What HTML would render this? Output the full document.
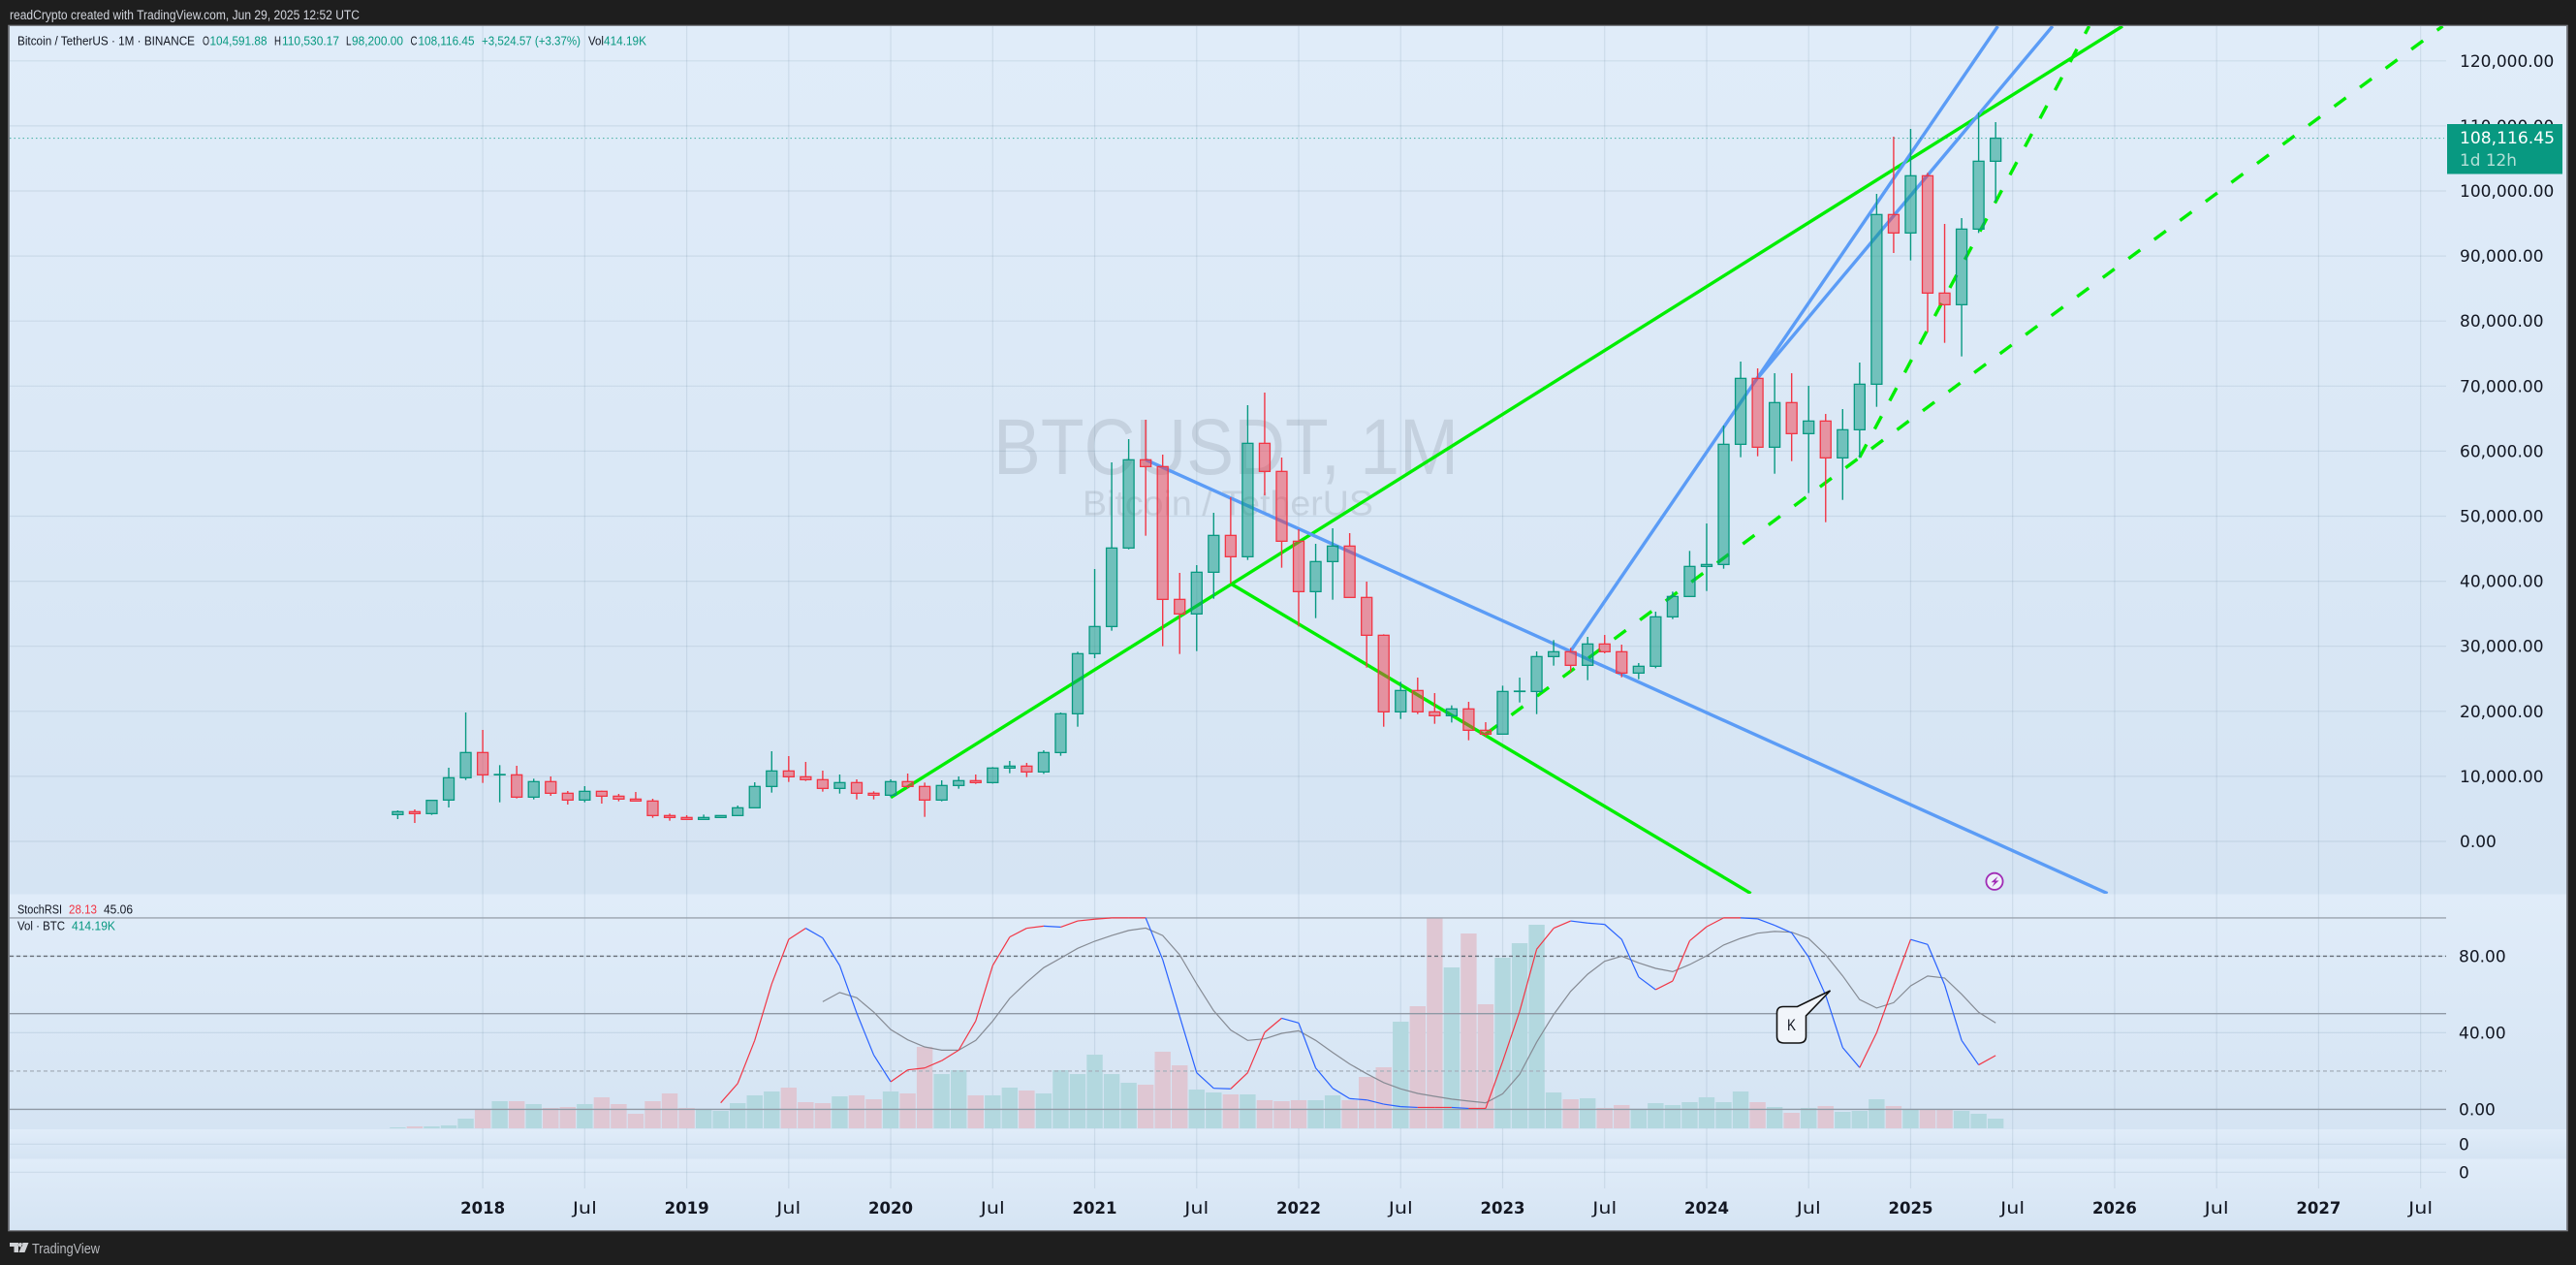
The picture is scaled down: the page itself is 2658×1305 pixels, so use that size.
<!DOCTYPE html>
<html lang="en"><head><meta charset="utf-8"><title>BTCUSDT 1M chart</title>
<style>
html,body{margin:0;padding:0;background:#1e1e1e;width:2658px;height:1305px;overflow:hidden}
svg{display:block}
text{font-family:"DejaVu Sans","Liberation Sans",sans-serif}
.ls{font-family:"Liberation Sans","DejaVu Sans",sans-serif}
</style></head>
<body>
<svg id="chart" xmlns="http://www.w3.org/2000/svg" width="2658" height="1305" viewBox="0 0 2658 1305">
<defs>
<linearGradient id="paneGrad" x1="0" y1="0" x2="0" y2="1"><stop offset="0" stop-color="#e0ecf9"/><stop offset="1" stop-color="#d5e4f3"/></linearGradient>
<clipPath id="mainClip"><rect x="10" y="27" width="2514" height="895"/></clipPath>
</defs>
<rect x="9" y="26.5" width="2640" height="1243" fill="#7b7e84" stroke="#7b7e84" stroke-width="1.6"/>
<rect x="10" y="27" width="2638" height="895.5" fill="url(#paneGrad)"/>
<rect x="10" y="922.5" width="2638" height="242.5" fill="url(#paneGrad)"/>
<rect x="10" y="1165" width="2638" height="30.5" fill="url(#paneGrad)"/>
<rect x="10" y="1195.5" width="2638" height="73.5" fill="url(#paneGrad)"/>
<g id="grid"></g>
<text class="ls" x="1025" y="489" font-size="82" textLength="480" lengthAdjust="spacingAndGlyphs" fill="#2a2e39" fill-opacity="0.12">BTCUSDT, 1M</text>
<text class="ls" x="1117" y="531.5" font-size="36" textLength="300" lengthAdjust="spacingAndGlyphs" fill="#2a2e39" fill-opacity="0.12">Bitcoin / TetherUS</text>
<g id="trendlines" clip-path="url(#mainClip)"></g>
<g id="candles"></g>
<line id="priceLine" x1="10" x2="2522" stroke="#089981" stroke-opacity="0.65" stroke-width="1.2" stroke-dasharray="1.5 3"/>
<g id="priceAxis"></g>
<g>
<rect x="2525" y="128" width="119" height="51.5" fill="#089981"/>
<text x="2538" y="148" font-size="17" textLength="98" lengthAdjust="spacingAndGlyphs" fill="#ffffff">108,116.45</text>
<text x="2538" y="171" font-size="17" textLength="59" lengthAdjust="spacingAndGlyphs" fill="#b5e0d8">1d 12h</text>
</g>
<g id="volume"></g>
<g id="bands"></g>
<g id="stoch"></g>
<g id="stochAxis"></g>
<g id="timeAxis"></g>
<g>
<path d="M1840 1038.5H1854.5L1888.5 1022L1863.5 1048V1069Q1863.5 1076 1856 1076H1841Q1833.5 1076 1833.5 1069V1045Q1833.5 1038.5 1840 1038.5Z" fill="#f1f5fa" stroke="#111111" stroke-width="1.6"/>
<text class="ls" x="1848.5" y="1063" font-size="17" text-anchor="middle" textLength="9" lengthAdjust="spacingAndGlyphs" fill="#131722">K</text>
</g>
<g>
<circle cx="2058" cy="909.3" r="8.6" fill="#eef1f9" stroke="#a02bb5" stroke-width="1.8"/>
<path d="M2061.5 904L2054.5 910.2H2058L2055.5 915L2062.5 908.5H2059Z" fill="#a02bb5"/>
</g>
<g class="ls" font-size="12.5">
<text class="ls" x="10" y="20" font-size="13.5" textLength="361" lengthAdjust="spacingAndGlyphs" fill="#d1d4dc">readCrypto created with TradingView.com, Jun 29, 2025 12:52 UTC</text>
<text class="ls" x="18" y="46.5" font-size="12.5" textLength="183" lengthAdjust="spacingAndGlyphs" fill="#131722">Bitcoin / TetherUS · 1M · BINANCE</text>
<text class="ls" x="209" y="46.5" font-size="12.5" textLength="7" lengthAdjust="spacingAndGlyphs" fill="#131722">O</text>
<text class="ls" x="216.5" y="46.5" font-size="12.5" textLength="59" lengthAdjust="spacingAndGlyphs" fill="#089981">104,591.88</text>
<text class="ls" x="283" y="46.5" font-size="12.5" textLength="7" lengthAdjust="spacingAndGlyphs" fill="#131722">H</text>
<text class="ls" x="291" y="46.5" font-size="12.5" textLength="59" lengthAdjust="spacingAndGlyphs" fill="#089981">110,530.17</text>
<text class="ls" x="357" y="46.5" font-size="12.5" textLength="5.5" lengthAdjust="spacingAndGlyphs" fill="#131722">L</text>
<text class="ls" x="363" y="46.5" font-size="12.5" textLength="53" lengthAdjust="spacingAndGlyphs" fill="#089981">98,200.00</text>
<text class="ls" x="423.5" y="46.5" font-size="12.5" textLength="7" lengthAdjust="spacingAndGlyphs" fill="#131722">C</text>
<text class="ls" x="431.5" y="46.5" font-size="12.5" textLength="58" lengthAdjust="spacingAndGlyphs" fill="#089981">108,116.45</text>
<text class="ls" x="497" y="46.5" font-size="12.5" textLength="102" lengthAdjust="spacingAndGlyphs" fill="#089981">+3,524.57 (+3.37%)</text>
<text class="ls" x="607" y="46.5" font-size="12.5" textLength="16" lengthAdjust="spacingAndGlyphs" fill="#131722">Vol</text>
<text class="ls" x="623" y="46.5" font-size="12.5" textLength="44" lengthAdjust="spacingAndGlyphs" fill="#089981">414.19K</text>
</g>
<g>
<text class="ls" x="18" y="942.5" font-size="12.5" textLength="46" lengthAdjust="spacingAndGlyphs" fill="#131722">StochRSI</text>
<text class="ls" x="71" y="942.5" font-size="12.5" textLength="29" lengthAdjust="spacingAndGlyphs" fill="#f23645">28.13</text>
<text class="ls" x="107" y="942.5" font-size="12.5" textLength="30" lengthAdjust="spacingAndGlyphs" fill="#131722">45.06</text>
<text class="ls" x="18" y="959.5" font-size="12.5" textLength="49" lengthAdjust="spacingAndGlyphs" fill="#131722">Vol · BTC</text>
<text class="ls" x="74" y="959.5" font-size="12.5" textLength="45" lengthAdjust="spacingAndGlyphs" fill="#089981">414.19K</text>
</g>
<g>
<path d="M10 1282H19V1292H14.5V1286H10ZM23.5 1282H29.5L25.5 1292H19.5ZM21 1282a2.2 2.2 0 1 0 0.01 0" fill="#d0d2d6"/>
<text class="ls" x="33" y="1293" font-size="15" textLength="70" lengthAdjust="spacingAndGlyphs" fill="#b8babf">TradingView</text>
</g>
</svg>
<script>
// Monthly candles: index 0 = Aug 2017, last index = Jun 2025
const open = [4122,4569,4271,6357,9785,
13660,10232,10232,6805,9189,7401,6357,7699,6953,6506,6208,3973,
3675,3377,3675,3973,5165,8444,10829,9934,9488,8146,9040,7401,
7102,9189,8444,6357,8593,9338,9040,11275,11574,10680,13659,19620,
28860,33033,45106,58668,57625,37207,34971,41380,47043,43765,61202,56880,
46149,38399,43019,45404,37505,31692,19917,23197,19917,19322,20365,17086,
16490,23048,23048,28413,29158,27072,30350,29158,25879,26923,34524,37654,
42272,42570,61050,71184,60602,67459,62689,64627,58963,63286,70291,96373,
93541,102334,84300,82512,94137,104570];
const high = [4768,4917,6308,11325,19821,
17138,11723,11624,9636,9984,7749,8494,7798,7301,7599,6556,4271,
4022,4122,3973,5513,9090,13859,13114,12220,10878,10282,9537,7699,
9537,10431,9040,9388,9984,10282,11424,12369,12071,14008,19818,29158,
41877,58271,61848,64829,59463,41281,42473,50521,52906,67064,69002,59016,
47987,45752,48136,47391,39939,31842,24538,25184,22800,20911,21458,18328,
23942,25184,29208,30947,29754,31443,31741,30251,27420,35319,38399,44659,
48878,63931,73769,72725,71980,71980,70042,65719,66465,73619,99552,108345,
109538,102781,94932,95826,112071,110581];
const low = [3426,2830,4072,5215,9437,
8990,6010,6606,6456,7003,5662,6010,5811,6159,6109,3625,3178,
3327,3327,3625,3923,5115,7500,9139,9288,7649,7351,6456,6456,
6805,8146,3773,6159,8096,8841,8891,10481,9885,10382,13162,17632,
28165,32388,44907,46993,30003,28811,29258,37306,39641,43268,53204,42076,
33033,34326,37157,37505,26724,17632,18825,19570,18080,18279,15546,16093,
16392,21359,19570,27022,26029,24787,28910,25234,24936,26625,34176,37554,
38497,41923,59063,59212,56528,58466,53550,49077,52504,58963,66813,90461,
89318,78289,76650,74563,93541,98310];
const close = [4569,4271,6308,9785,13660,
10232,10290,6805,9189,7401,6357,7699,6953,6506,6208,3973,3675,
3377,3675,3973,5165,8444,10829,9934,9488,8146,9040,7401,7102,
9189,8444,6357,8593,9338,9040,11275,11574,10680,13660,19620,28860,
33033,45106,58668,57625,37207,34971,41380,47043,43765,61202,56880,46149,
38399,43019,45404,37505,31692,19917,23197,19917,19322,20365,17086,16490,
23048,23100,28413,29158,27072,30350,29158,25879,26923,34524,37654,42274,
42570,61050,71184,60602,67459,62689,64627,58963,63286,70291,96373,93541,
102334,84300,82512,94137,104570,108116];
// Volume in thousands of BTC
const volumeK = [41,83,83,124,414,
814,1159,1159,1035,869,911,1035,1325,1035,621,1159,1490,
869,828,745,1076,1408,1573,1739,1118,1076,1366,1408,1242,
1573,1490,3478,2318,2484,1408,1408,1739,1615,1490,2484,2318,
3146,2318,1946,1863,3271,2691,1656,1532,1449,1449,1201,1159,
1201,1201,1408,1201,2194,2608,4554,5216,8984,6872,8321,5299,
7286,7907,8694,1532,1242,1283,869,994,787,1076,994,1118,
1325,1118,1573,1118,911,662,869,952,704,745,1242,952,
828,787,828,745,621,414];
// Stochastic RSI; null where the indicator has no value yet
const stochK = [null,null,null,null,null,
null,null,null,null,null,null,null,null,null,null,null,null,
null,null,3.4,13.5,36,65.5,88.8,94.6,89.5,75.1,50.3,28.4,
14.4,20.6,21.6,25.4,30.9,46.1,75.1,90,94.6,95.7,95.2,98.4,
99.3,100,100,100,78.2,48.6,19.1,11,10.7,19.1,40.2,47.6,
45.1,21.6,11,5.6,4.9,2.7,1.4,1,1,1,0.5,0.5,
25,51.2,83.6,94.6,98.4,97.3,96.6,88.8,69.1,62.5,67,88,
95.4,100,100,99.5,96.1,92.2,79.5,59.6,32.3,21.8,40,64.7,
88.7,86.1,65,36,23.2,28.1];
const stochD = [null,null,null,null,null,
null,null,null,null,null,null,null,null,null,null,null,null,
null,null,null,null,null,null,null,null,56.2,61,58.3,50.8,
41.6,36.3,32.6,30.9,30.9,36,46.1,57.9,66.4,74,79,84.1,
87.8,90.8,93.4,94.7,90.8,80.7,65.5,51.5,41.4,36,36.8,39.7,
41,36,29.7,23.7,18.6,14,10.7,8.3,6.8,5.3,4.3,3.4,
8.1,18.3,35.1,49.5,61.6,70.6,77.3,80,76.5,73.6,71.9,75.6,
80.2,85.8,89.3,92,92.9,92.5,89.2,80.7,69.7,57.3,52.9,55.7,
64.5,69.6,68.6,60.1,50.7,45.1];
// Axis ticks
const priceTicks = [0,10000,20000,30000,40000,50000,60000,70000,80000,90000,100000,110000,120000];
const timeTickLabels = ["2018","Jul","2019","Jul","2020","Jul","2021","Jul","2022","Jul","2023","Jul","2024","Jul","2025","Jul","2026","Jul","2027","Jul"];
const timeTickMonths = [5,11,17,23,29,35,41,47,53,59,65,71,77,83,89,95,101,107,113,119];
const stochTicks = [0,40,80];
// Trend lines as [month index, price] anchors
const greenUpLine = [[29,6751],[101.46,125335]];
const greenDownLine = [[49,39642],[79.6,-8003]];
const blueDownLine = [[44,58673],[100.58,-8003]];
const blueUpLineA = [[69,29255],[94.13,125335]];
const blueUpLineB = [[80,71237],[97.35,125335]];
const greenDashLineA = [[64,16498],[120.3,125335]];
const greenDashLineB = [[86,59061],[99.5,125335]];
const lastClose = 108116.45;

const NS = 'http://www.w3.org/2000/svg';
const xAt = i => 410.4 + 17.54 * i;
const yPrice = p => 868 - 0.00671 * p;
const yStoch = v => 1144.4 - 1.975 * v;
const yVolume = k => 1164 - k / 41.4;
const node = (id) => document.getElementById(id);
const make = (tag) => document.createElementNS(NS, tag);
const UP = '#089981', DOWN = '#f23645';

function setLine(el, x1, y1, x2, y2, stroke, width) {
  el.setAttribute('x1', x1); el.setAttribute('y1', y1);
  el.setAttribute('x2', x2); el.setAttribute('y2', y2);
  el.setAttribute('stroke', stroke); el.setAttribute('stroke-width', width);
}

// Grid
timeTickMonths.forEach(m => {
  const v = make('line');
  
  
  setLine(v, xAt(m), 27, xAt(m), 1226, '#2a4a6a', 1.2);
  v.setAttribute('stroke-opacity', '0.1');
  node('grid').appendChild(v);
});
priceTicks.forEach(p => {
  const h = make('line');
  
  
  setLine(h, 10, yPrice(p), 2524, yPrice(p), '#2a4a6a', 1.2);
  h.setAttribute('stroke-opacity', '0.1');
  node('grid').appendChild(h);
});
stochTicks.forEach(t => {
  const h = make('line');
  
  
  setLine(h, 10, yStoch(t), 2524, yStoch(t), '#2a4a6a', 1.2);
  h.setAttribute('stroke-opacity', '0.1');
  node('grid').appendChild(h);
});
[1180.3, 1209.3].forEach(y => {
  const h = make('line');
  
  
  setLine(h, 10, y, 2524, y, '#2a4a6a', 1.2);
  h.setAttribute('stroke-opacity', '0.1');
  node('grid').appendChild(h);
});

// Trend lines
function drawTrend(anchors, name, color, dashed) {
  const l = make('line');
  
  
  setLine(l, xAt(anchors[0][0]), yPrice(anchors[0][1]), xAt(anchors[1][0]), yPrice(anchors[1][1]), color, 3.4);
  if (dashed) l.setAttribute('stroke-dasharray', '15 18');
  node('trendlines').appendChild(l);
}
drawTrend(greenUpLine, 'green-uptrend-line', '#00ee00', false);
drawTrend(greenDownLine, 'green-downtrend-line', '#00ee00', false);
drawTrend(blueDownLine, 'blue-downtrend-line', '#5b9cf6', false);
drawTrend(blueUpLineA, 'blue-uptrend-line-a', '#5b9cf6', false);
drawTrend(blueUpLineB, 'blue-uptrend-line-b', '#5b9cf6', false);
drawTrend(greenDashLineA, 'green-dashed-channel-line', '#00ee00', true);
drawTrend(greenDashLineB, 'green-dashed-steep-line', '#00ee00', true);

// Candles
open.forEach((o, i) => {
  const c = close[i], up = c >= o, color = up ? UP : DOWN, x = xAt(i);
  const top = yPrice(Math.max(o, c)), bot = yPrice(Math.min(o, c));
  const wickTop = make('line');
  
  
  setLine(wickTop, x, yPrice(high[i]), x, top, color, 1.4);
  node('candles').appendChild(wickTop);
  const wickBot = make('line');
  
  
  setLine(wickBot, x, bot, x, yPrice(low[i]), color, 1.4);
  node('candles').appendChild(wickBot);
  const body = make('rect');
  
  
  body.setAttribute('x', x - 5.5);
  body.setAttribute('y', top);
  body.setAttribute('width', 11);
  body.setAttribute('height', Math.max(bot - top, 0.4));
  body.setAttribute('fill', color);
  body.setAttribute('fill-opacity', up ? 0.5 : 0.48);
  body.setAttribute('stroke', color);
  body.setAttribute('stroke-width', 1.3);
  node('candles').appendChild(body);
});

// Last price line
node('priceLine').setAttribute('y1', yPrice(lastClose));
node('priceLine').setAttribute('y2', yPrice(lastClose));

// Price axis labels
priceTicks.forEach(p => {
  const t = make('text');
  
  
  t.setAttribute('x', 2538);
  t.setAttribute('y', yPrice(p) + 6);
  t.setAttribute('font-size', 17);
  t.setAttribute('fill', '#131722');
  t.textContent = p.toLocaleString('en-US', {minimumFractionDigits: 2, maximumFractionDigits: 2});
  node('priceAxis').appendChild(t);
});

// Volume
volumeK.forEach((k, i) => {
  const r = make('rect');
  
  
  r.setAttribute('x', xAt(i) - 8.2);
  r.setAttribute('y', yVolume(k));
  r.setAttribute('width', 16.4);
  r.setAttribute('height', 1164 - yVolume(k));
  r.setAttribute('fill', close[i] >= open[i] ? '#b3d8df' : '#dfc7d3');
  node('volume').appendChild(r);
});

// Stoch band lines
[[100,'#9aa3ae',null,'upper-limit-line'],[80,'#686e78','4 3','overbought-line'],[50,'#8f99a5',null,'middle-line'],[20,'#a8b2bd','4 3','oversold-line'],[0,'#8f99a5',null,'lower-limit-line']].forEach(b => {
  const l = make('line');
  
  
  setLine(l, 10, yStoch(b[0]), 2524, yStoch(b[0]), b[1], 1.4);
  if (b[2]) l.setAttribute('stroke-dasharray', b[2]);
  node('bands').appendChild(l);
});

// Stoch lines
let dPath = '';
stochD.forEach((v, i) => {
  if (v === null) return;
  dPath += (dPath ? 'L' : 'M') + xAt(i).toFixed(1) + ' ' + yStoch(v).toFixed(1);
});
const dLine = make('path');


dLine.setAttribute('d', dPath);
dLine.setAttribute('fill', 'none');
dLine.setAttribute('stroke', '#868b94');
dLine.setAttribute('stroke-width', 1.2);
node('stoch').appendChild(dLine);
stochK.forEach((v, i) => {
  if (v === null || i === stochK.length - 1) return;
  const n = stochK[i + 1];
  const seg = make('line');
  
  
  setLine(seg, xAt(i), yStoch(v), xAt(i + 1), yStoch(n), n >= v ? '#f23645' : '#2962ff', 1.2);
  node('stoch').appendChild(seg);
});

// Stoch axis labels
stochTicks.forEach(t => {
  const l = make('text');
  
  
  l.setAttribute('x', 2537);
  l.setAttribute('y', yStoch(t) + 6);
  l.setAttribute('font-size', 17);
  l.setAttribute('fill', '#131722');
  l.textContent = t.toFixed(2);
  node('stochAxis').appendChild(l);
});
[1180.3, 1209.3].forEach(y => {
  const l = make('text');
  
  
  l.setAttribute('x', 2537);
  l.setAttribute('y', y + 6);
  l.setAttribute('font-size', 17);
  l.setAttribute('fill', '#131722');
  l.textContent = '0';
  node('stochAxis').appendChild(l);
});

// Time axis labels
timeTickLabels.forEach((label, i) => {
  const t = make('text');
  
  
  t.setAttribute('x', xAt(timeTickMonths[i]));
  t.setAttribute('y', 1252);
  t.setAttribute('font-size', 17);
  t.setAttribute('text-anchor', 'middle');
  t.setAttribute('fill', '#131722');
  t.setAttribute('lengthAdjust', 'spacingAndGlyphs');
  t.setAttribute('textLength', label === 'Jul' ? 25 : 46);
  if (label !== 'Jul') t.setAttribute('font-weight', '600');
  t.textContent = label;
  node('timeAxis').appendChild(t);
});
</script>
</body></html>
